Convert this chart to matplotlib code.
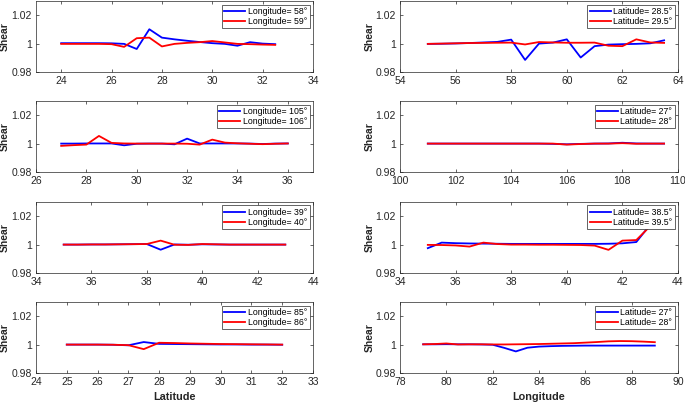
import matplotlib
matplotlib.use('Agg')
import matplotlib.pyplot as plt

plt.rcParams['font.family'] = ['Liberation Sans', 'DejaVu Sans']

# ---- panel 1 (row 1, left): shear along latitude ----
p1_x = [24, 24.5, 25, 25.5, 26, 26.5, 27, 27.5, 28, 28.5, 29, 29.5, 30, 30.5, 31, 31.5, 32, 32.5]
p1_blue = [1.0003, 1.0003, 1.0003, 1.0003, 1.0002, 0.9998, 0.9962, 1.0101, 1.0042, 1.0030,
           1.0020, 1.0011, 1.0003, 0.9998, 0.9985, 1.0010, 1.0000, 0.9996]
p1_red = [0.9998, 0.9998, 0.9998, 0.9998, 0.9996, 0.9977, 1.0038, 1.0042, 0.9980, 0.9998,
          1.0005, 1.0010, 1.0018, 1.0008, 0.9998, 0.9996, 0.9993, 0.9991]
p1_labels = ['Longitude= 58°', 'Longitude= 59°']

# ---- panel 2 (row 1, right): shear along longitude ----
p2_x = [55, 55.5, 56, 56.5, 57, 57.5, 58, 58.5, 59, 59.5, 60, 60.5, 61, 61.5, 62, 62.5, 63, 63.5]
p2_blue = [0.9998, 0.9999, 1.0001, 1.0004, 1.0008, 1.0012, 1.0028, 0.9885, 1.0000, 1.0007,
           1.0030, 0.9902, 0.9982, 0.9993, 0.9996, 0.9998, 1.0002, 1.0023]
p2_red = [0.9998, 1.0000, 1.0002, 1.0004, 1.0005, 1.0006, 1.0007, 0.9994, 1.0011, 1.0008,
          1.0006, 1.0006, 1.0007, 0.9985, 0.9982, 1.0030, 1.0008, 1.0005]
p2_labels = ['Latitude= 28.5°', 'Latitude= 29.5°']

# ---- panel 3 (row 2, left) ----
p3_x = [27, 27.5, 28, 28.5, 29, 29.5, 30, 30.5, 31, 31.5, 32, 32.5, 33, 33.5, 34, 34.5, 35, 35.5, 36]
p3_blue = [1.0000, 1.0000, 1.0001, 1.0001, 1.0001, 0.9988, 0.9999, 1.0000, 1.0000, 0.9995,
           1.0035, 1.0001, 1.0001, 1.0001, 1.0001, 1.0000, 0.9997, 1.0000, 1.0001]
p3_red = [0.9984, 0.9989, 0.9993, 1.0054, 1.0005, 1.0001, 1.0000, 1.0000, 1.0000, 1.0000,
          0.9999, 0.9993, 1.0028, 1.0007, 1.0002, 0.9999, 0.9996, 0.9999, 1.0001]
p3_labels = ['Longitude= 105°', 'Longitude= 106°']

# ---- panel 4 (row 2, right) ----
p4_x = [101, 101.5, 102, 102.5, 103, 103.5, 104, 104.5, 105, 105.5, 106, 106.5, 107, 107.5, 108, 108.5, 109, 109.5]
p4_blue = [1.0000, 1.0000, 1.0000, 1.0000, 1.0000, 1.0000, 1.0000, 1.0000, 1.0000, 0.9998,
           0.9995, 0.9998, 1.0000, 1.0001, 1.0006, 1.0001, 1.0000, 1.0000]
p4_red = [1.0000, 1.0000, 1.0000, 1.0000, 1.0000, 1.0000, 1.0000, 1.0000, 1.0000, 1.0000,
          0.9993, 0.9997, 1.0000, 1.0000, 1.0003, 0.9999, 1.0000, 1.0000]
p4_labels = ['Latitude= 27°', 'Latitude= 28°']

# ---- panel 5 (row 3, left) ----
p5_x = [35, 35.5, 36, 36.5, 37, 37.5, 38, 38.5, 39, 39.5, 40, 40.5, 41, 41.5, 42, 42.5, 43]
p5_blue = [1.0000, 1.0000, 1.0001, 1.0001, 1.0002, 1.0003, 1.0004, 0.9964, 1.0001, 0.9999,
           1.0002, 1.0001, 1.0000, 1.0000, 1.0000, 1.0000, 1.0000]
p5_red = [1.0000, 1.0000, 1.0001, 1.0001, 1.0002, 1.0003, 1.0004, 1.0028, 0.9999, 0.9998,
          1.0004, 1.0002, 1.0000, 1.0000, 1.0000, 1.0000, 1.0000]
p5_labels = ['Longitude= 39°', 'Longitude= 40°']

# ---- panel 6 (row 3, right) ----
p6_x = [35, 35.5, 36, 36.5, 37, 37.5, 38, 38.5, 39, 39.5, 40, 40.5, 41, 41.5, 42, 42.5, 43]
p6_blue = [0.9975, 1.0014, 1.0010, 1.0008, 1.0007, 1.0006, 1.0005, 1.0005, 1.0005, 1.0005,
           1.0005, 1.0005, 1.0005, 1.0006, 1.0009, 1.0018, 1.0140]
p6_red = [0.9998, 0.9997, 0.9994, 0.9986, 1.0014, 1.0004, 1.0000, 1.0000, 0.9999, 0.9999,
          0.9998, 0.9997, 0.9993, 0.9963, 1.0028, 1.0032, 1.0130]
p6_labels = ['Latitude= 38.5°', 'Latitude= 39.5°']

# ---- panel 7 (row 4, left) ----
p7_x = [25, 25.5, 26, 26.5, 27, 27.5, 28, 28.5, 29, 29.5, 30, 30.5, 31, 31.5, 32]
p7_blue = [1.0000, 1.0000, 1.0000, 0.9999, 0.9995, 1.0018, 1.0005, 1.0004, 1.0003, 1.0002,
           1.0001, 1.0001, 1.0000, 1.0000, 0.9999]
p7_red = [1.0000, 1.0000, 1.0000, 0.9999, 0.9996, 0.9968, 1.0013, 1.0011, 1.0008, 1.0006,
          1.0004, 1.0003, 1.0002, 1.0001, 1.0000]
p7_labels = ['Longitude= 85°', 'Longitude= 86°']

# ---- panel 8 (row 4, right) ----
p8_x = [79, 79.5, 80, 80.5, 81, 81.5, 82, 82.5, 83, 83.5, 84, 84.5, 85, 85.5, 86, 86.5, 87, 87.5, 88, 88.5, 89]
p8_blue = [1.0002, 1.0002, 1.0003, 1.0002, 1.0002, 1.0001, 0.9999, 0.9977, 0.9952, 0.9978,
           0.9986, 0.9989, 0.9991, 0.9992, 0.9993, 0.9993, 0.9993, 0.9993, 0.9993, 0.9993, 0.9993]
p8_red = [1.0002, 1.0004, 1.0008, 1.0001, 1.0002, 1.0002, 1.0001, 1.0001, 1.0002, 1.0003,
          1.0004, 1.0006, 1.0008, 1.0010, 1.0014, 1.0018, 1.0023, 1.0025, 1.0024, 1.0021, 1.0017]
p8_labels = ['Latitude= 27°', 'Latitude= 28°']

panels = [
    (p1_x, p1_blue, p1_red, p1_labels, (23, 34), [24, 26, 28, 30, 32, 34]),
    (p2_x, p2_blue, p2_red, p2_labels, (54, 64), [54, 56, 58, 60, 62, 64]),
    (p3_x, p3_blue, p3_red, p3_labels, (26, 37), [26, 28, 30, 32, 34, 36]),
    (p4_x, p4_blue, p4_red, p4_labels, (100, 110), [100, 102, 104, 106, 108, 110]),
    (p5_x, p5_blue, p5_red, p5_labels, (34, 44), [34, 36, 38, 40, 42, 44]),
    (p6_x, p6_blue, p6_red, p6_labels, (34, 44), [34, 36, 38, 40, 42, 44]),
    (p7_x, p7_blue, p7_red, p7_labels, (24, 33), [24, 25, 26, 27, 28, 29, 30, 31, 32, 33]),
    (p8_x, p8_blue, p8_red, p8_labels, (78, 90), [78, 80, 82, 84, 86, 88, 90]),
]

W, H = 685, 405
fig = plt.figure(figsize=(W / 100, H / 100), dpi=100)

col_left = [36, 400]
col_width = [277, 278]
shear_x = [-0.113, -0.108]   # centre of the "Shear" label, axes fraction
row_bottom = [72, 172, 273, 373]
row_height = 71
axcol = '#262626'

for i, (x, yb, yr, labels, xlim, xticks) in enumerate(panels):
    r, c = i // 2, i % 2
    rect = [col_left[c] / W, 1 - row_bottom[r] / H, col_width[c] / W, row_height / H]
    ax = fig.add_axes(rect)
    ax.plot(x, yb, color='#0000ff', lw=1.3, label=labels[0])
    ax.plot(x, yr, color='#ff0000', lw=1.3, label=labels[1])
    ax.set_xlim(*xlim)
    ax.set_ylim(0.98, 1.03)
    ax.set_xticks(xticks)
    ax.set_xticklabels([str(t) for t in xticks])
    ax.set_yticks([0.98, 1.0, 1.02])
    ax.set_yticklabels(['0.98', '1', '1.02'])
    ax.tick_params(direction='in', length=2.5, width=0.5, labelsize=7.5,
                   colors=axcol, top=True, right=True, pad=3)
    for s in ax.spines.values():
        s.set_linewidth(0.5)
        s.set_color(axcol)
    ax.set_ylabel('Shear', fontsize=7.4, fontweight='bold', color=axcol, va='center')
    ax.yaxis.set_label_coords(shear_x[c], 0.5)
    if r == 3:
        ax.set_xlabel('Latitude' if c == 0 else 'Longitude', fontsize=7.8,
                      fontweight='bold', color=axcol, labelpad=3.5)
    leg = ax.legend(loc='upper right', fontsize=6.3, frameon=True, fancybox=False,
                    framealpha=1, edgecolor=axcol, handlelength=2.4, handletextpad=0.3,
                    borderpad=0.25, labelspacing=0.15, borderaxespad=0.4)
    leg.get_frame().set_linewidth(0.5)

fig.savefig('out.png', dpi=100)
